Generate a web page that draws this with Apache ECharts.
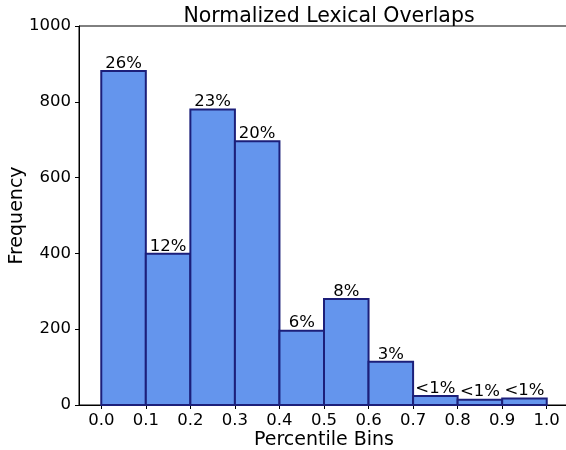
<!DOCTYPE html>
<html><head><meta charset="utf-8">
<script src="https://cdn.jsdelivr.net/npm/echarts@6/dist/echarts.min.js"></script>
<style>html,body{margin:0;padding:0;background:#fff}#c{width:566px;height:450px}</style>
</head><body><div id="c"></div>
<script>
const binStarts = [0.0, 0.1, 0.2, 0.3, 0.4, 0.5, 0.6, 0.7, 0.8, 0.9];
const binEnds   = [0.1, 0.2, 0.3, 0.4, 0.5, 0.6, 0.7, 0.8, 0.9, 1.0];
const frequencies = [881, 399, 780, 696, 196, 280, 114, 24, 14, 17];
const percentLabels = ['26%', '12%', '23%', '20%', '6%', '8%', '3%', '<1%', '<1%', '<1%'];
const xTicks = [0.0, 0.1, 0.2, 0.3, 0.4, 0.5, 0.6, 0.7, 0.8, 0.9, 1.0];

const FONT = 'DejaVu Sans';
const data = binStarts.map((s, i) => [s, binEnds[i], frequencies[i], percentLabels[i]]);

const chart = echarts.init(document.getElementById('c'));
chart.setOption({
  animation: false,
  title: {
    text: 'Normalized Lexical Overlaps', left: 324, top: 1, textAlign: 'center',
    textStyle: {fontFamily: FONT, fontSize: 20.5, fontWeight: 'normal', color: '#000'}
  },
  grid: {left: 79, right: -3, top: 26, bottom: 45, show: true, borderColor: '#000', borderWidth: 1,
         containLabel: false, outerBoundsMode: 'none'},
  xAxis: {
    type: 'value', min: -0.05, max: 1.05,
    name: 'Percentile Bins', nameLocation: 'middle', nameGap: 26, nameMoveOverlap: false,
    nameTextStyle: {fontFamily: FONT, fontSize: 19, color: '#000'},
    axisLine: {show: true, onZero: false, lineStyle: {color: '#000', width: 1}},
    axisTick: {show: true, length: 4, lineStyle: {color: '#000'}, customValues: xTicks},
    axisLabel: {fontFamily: FONT, fontSize: 16.5, color: '#000', margin: 7,
      customValues: xTicks, formatter: v => v.toFixed(1)},
    splitLine: {show: false}
  },
  yAxis: {
    type: 'value', min: 0, max: 1000, interval: 200,
    name: 'Frequency', nameLocation: 'middle', nameGap: 52, nameMoveOverlap: false,
    nameTextStyle: {fontFamily: FONT, fontSize: 19, color: '#000'},
    axisLine: {show: true, onZero: false, lineStyle: {color: '#000', width: 1}},
    axisTick: {show: true, length: 4, lineStyle: {color: '#000'}},
    axisLabel: {fontFamily: FONT, fontSize: 16.5, color: '#000', margin: 8, formatter: v => String(v)},
    splitLine: {show: false}
  },
  series: [{
    type: 'custom',
    data: data,
    encode: {x: [0, 1], y: 2},
    renderItem: function (params, api) {
      const p0 = api.coord([api.value(0), api.value(2)]);
      const p1 = api.coord([api.value(1), 0]);
      const lbl = percentLabels[params.dataIndex];
      return {
        type: 'group',
        children: [
          {type: 'rect', shape: {x: p0[0], y: p0[1], width: p1[0] - p0[0], height: p1[1] - p0[1]},
           style: {fill: '#6495ED', stroke: '#1c1f7a', lineWidth: 2}},
          {type: 'text', style: {text: lbl, x: (p0[0] + p1[0]) / 2, y: p0[1] + 1,
           textAlign: 'center', textVerticalAlign: 'bottom',
           font: '16.5px "DejaVu Sans"', fill: '#000'}}
        ]
      };
    }
  }]
});
</script></body></html>
